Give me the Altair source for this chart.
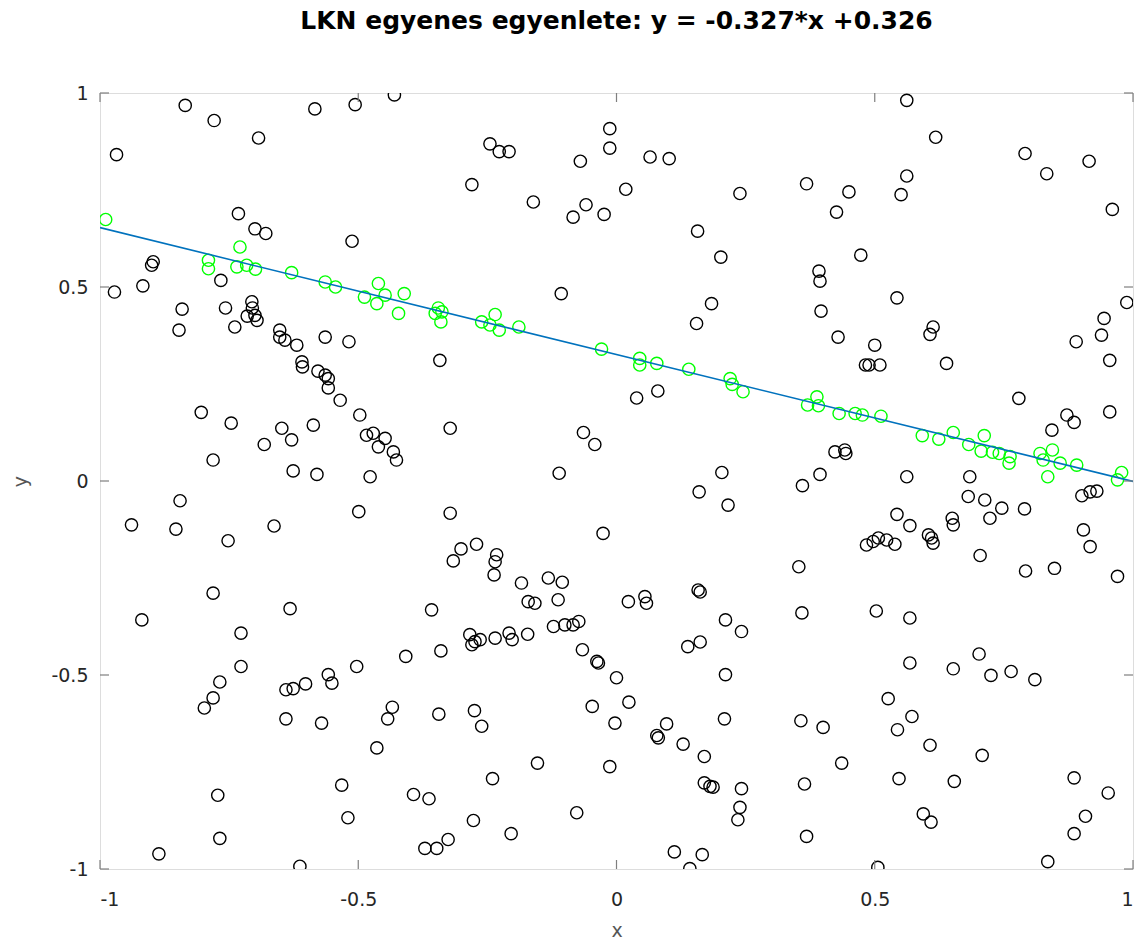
import altair as alt
import pandas as pd

TITLE = "LKN egyenes egyenlete: y = -0.327*x +0.326"
SLOPE = -0.327
INTERCEPT = 0.326

black_x = [
    -0.835, -0.779, -0.693, -0.584, -0.506, -0.968, -0.732, -0.700, -0.679, -0.512,
    -0.897, -0.900, -0.972, -0.917, -0.766, -0.841, -0.847, -0.757, -0.739, -0.706,
    -0.705, -0.700, -0.715, -0.696, -0.652, -0.652, -0.642, -0.619, -0.564, -0.518,
    -0.430, -0.245, -0.227, -0.208, -0.280, -0.161, -0.070, -0.013, -0.013, -0.059,
    -0.084, -0.024, -0.107,
    0.065, 0.102, 0.018, 0.239, 0.157, 0.202, 0.184, 0.155, 0.368, 0.450,
    0.426, 0.473, 0.392, 0.394, 0.396, 0.429, 0.500,
    0.562, 0.618, 0.562, 0.551, 0.791, 0.833, 0.915, 0.960, 0.543, 0.613,
    0.607, 0.988, 0.944, 0.939, 0.890,
    -0.609, -0.608, -0.578, -0.564, -0.558, -0.558, -0.535, -0.497, -0.804, -0.746,
    -0.648, -0.629, -0.587, -0.682, -0.781, -0.626, -0.580, -0.845, -0.939, -0.853,
    -0.752, -0.663, -0.499, -0.781, -0.632,
    -0.342, -0.484, -0.471, -0.448, -0.461, -0.432, -0.426, -0.477, -0.322, -0.322,
    -0.064, -0.042, -0.111, -0.026, -0.316, -0.301, -0.271, -0.232, -0.235, -0.237,
    -0.184, -0.132, -0.105, -0.113, -0.171, -0.158, -0.358,
    0.039, 0.080, 0.482, 0.489, 0.510, 0.423, 0.442, 0.444, 0.394, 0.360,
    0.204, 0.160, 0.216, 0.484, 0.497, 0.507, 0.353, 0.158, 0.162, 0.023,
    0.055, 0.058, 0.359, 0.503,
    0.639, 0.955, 0.779, 0.872, 0.886, 0.843, 0.955, 0.562, 0.684, 0.901,
    0.917, 0.930, 0.681, 0.713, 0.746, 0.790, 0.723, 0.543, 0.568, 0.650,
    0.652, 0.604, 0.610, 0.613, 0.523, 0.539, 0.904, 0.917, 0.704, 0.792,
    0.848, 0.970,
    -0.919, -0.727, -0.727, -0.768, -0.781, -0.798, -0.640, -0.626, -0.602, -0.558,
    -0.551, -0.503, -0.640, -0.571, -0.532, -0.520, -0.772, -0.768, -0.886, -0.613,
    -0.284, -0.280, -0.274, -0.264, -0.235, -0.208, -0.202, -0.172, -0.122, -0.100,
    -0.084, -0.073, -0.340, -0.408, -0.066, -0.038, -0.035, 0.000, -0.434, -0.443,
    -0.344, -0.275, -0.261, -0.047, -0.003, -0.464, -0.153, -0.240, -0.013, -0.393,
    -0.363, -0.277, -0.204, -0.077, -0.371, -0.348, -0.326,
    0.211, 0.242, 0.138, 0.162, 0.024, 0.097, 0.078, 0.081, 0.129, 0.170,
    0.211, 0.209, 0.357, 0.400, 0.436, 0.170, 0.181, 0.187, 0.242, 0.239,
    0.235, 0.364, 0.368, 0.112, 0.166, 0.142, 0.506,
    0.568, 0.568, 0.652, 0.702, 0.725, 0.764, 0.810, 0.526, 0.572, 0.544,
    0.607, 0.708, 0.547, 0.654, 0.594, 0.609, 0.886, 0.952, 0.908, 0.886,
    0.835,
]
black_y = [
    0.968, 0.929, 0.884, 0.959, 0.970, 0.841, 0.689, 0.650, 0.638, 0.618,
    0.565, 0.556, 0.487, 0.503, 0.517, 0.443, 0.389, 0.446, 0.397, 0.462,
    0.446, 0.427, 0.425, 0.414, 0.389, 0.371, 0.363, 0.350, 0.371, 0.359,
    0.995, 0.869, 0.849, 0.849, 0.764, 0.719, 0.824, 0.908, 0.858, 0.712,
    0.680, 0.687, 0.483,
    0.835, 0.831, 0.752, 0.741, 0.644, 0.577, 0.457, 0.406, 0.766, 0.745,
    0.693, 0.582, 0.541, 0.515, 0.438, 0.371, 0.350,
    0.981, 0.886, 0.786, 0.738, 0.844, 0.792, 0.824, 0.700, 0.472, 0.397,
    0.378, 0.460, 0.419, 0.376, 0.359,
    0.307, 0.294, 0.283, 0.273, 0.264, 0.240, 0.208, 0.170, 0.177, 0.149,
    0.136, 0.106, 0.144, 0.094, 0.054, 0.026, 0.017, -0.051, -0.113, -0.124,
    -0.154, -0.116, -0.079, -0.289, -0.329,
    0.311, 0.118, 0.123, 0.110, 0.088, 0.075, 0.054, 0.011, 0.136, -0.083,
    0.125, 0.094, 0.020, -0.135, -0.206, -0.175, -0.163, -0.190, -0.208, -0.242,
    -0.263, -0.250, -0.261, -0.306, -0.311, -0.315, -0.332,
    0.214, 0.232, 0.299, 0.299, 0.299, 0.075, 0.080, 0.071, 0.017, -0.012,
    0.022, -0.028, -0.062, -0.165, -0.156, -0.147, -0.221, -0.281, -0.286, -0.311,
    -0.298, -0.315, -0.340, -0.335,
    0.303, 0.311, 0.213, 0.170, 0.151, 0.131, 0.178, 0.011, 0.011, -0.038,
    -0.028, -0.026, -0.040, -0.049, -0.070, -0.072, -0.096, -0.086, -0.115, -0.096,
    -0.113, -0.139, -0.147, -0.160, -0.152, -0.163, -0.126, -0.169, -0.192, -0.232,
    -0.225, -0.246,
    -0.358, -0.392, -0.478, -0.518, -0.559, -0.585, -0.538, -0.535, -0.523, -0.499,
    -0.521, -0.478, -0.613, -0.624, -0.784, -0.868, -0.810, -0.921, -0.961, -0.993,
    -0.396, -0.422, -0.414, -0.409, -0.405, -0.392, -0.409, -0.395, -0.375, -0.371,
    -0.371, -0.362, -0.438, -0.452, -0.435, -0.465, -0.469, -0.507, -0.583, -0.613,
    -0.601, -0.592, -0.632, -0.581, -0.624, -0.688, -0.727, -0.767, -0.736, -0.808,
    -0.819, -0.875, -0.909, -0.855, -0.947, -0.947, -0.924,
    -0.358, -0.388, -0.427, -0.415, -0.570, -0.626, -0.656, -0.662, -0.678, -0.710,
    -0.499, -0.613, -0.618, -0.635, -0.727, -0.778, -0.787, -0.789, -0.793, -0.841,
    -0.873, -0.781, -0.916, -0.956, -0.963, -0.999, -0.996,
    -0.353, -0.469, -0.484, -0.446, -0.501, -0.491, -0.512, -0.561, -0.607, -0.641,
    -0.681, -0.707, -0.767, -0.774, -0.858, -0.879, -0.765, -0.804, -0.864, -0.909,
    -0.981,
]

green_x = [
    -0.989, -0.790, -0.790, -0.729, -0.735, -0.716, -0.699, -0.629, -0.564, -0.544,
    -0.488, -0.461, -0.464, -0.448, -0.411, -0.422, -0.345, -0.338, -0.340, -0.351,
    -0.261, -0.235, -0.245, -0.227, -0.189, -0.029, 0.045, 0.045, 0.078, 0.140,
    0.220, 0.224, 0.245, 0.388, 0.370, 0.391, 0.431, 0.462, 0.476, 0.512,
    0.592, 0.624, 0.652, 0.682, 0.712, 0.706, 0.728, 0.741, 0.762, 0.760,
    0.820, 0.826, 0.844, 0.859, 0.835, 0.891, 0.978, 0.970,
]
green_y = [
    0.674, 0.569, 0.547, 0.603, 0.552, 0.556, 0.546, 0.537, 0.513, 0.500,
    0.474, 0.509, 0.457, 0.479, 0.483, 0.432, 0.446, 0.436, 0.410, 0.432,
    0.410, 0.429, 0.402, 0.389, 0.397, 0.340, 0.316, 0.299, 0.303, 0.288,
    0.264, 0.249, 0.230, 0.217, 0.196, 0.194, 0.174, 0.174, 0.170, 0.167,
    0.117, 0.108, 0.125, 0.094, 0.117, 0.077, 0.074, 0.071, 0.063, 0.046,
    0.071, 0.054, 0.080, 0.046, 0.011, 0.041, 0.022, 0.003,
]

tick_values = [-1, -0.5, 0, 0.5, 1]
line_x = [-1, 1]

W, H = 1033, 776
FONT = "DejaVu Sans"
FRAME = "#7f7f7f"
TICK_LEN = 9

xs = alt.Scale(domain=[-1, 1], nice=False, zero=False)
ys = alt.Scale(domain=[-1, 1], nice=False, zero=False)

black_df = pd.DataFrame({"x": black_x, "y": black_y})
green_df = pd.DataFrame({"x": green_x, "y": green_y})
line_df = pd.DataFrame({"x": line_x, "y": [SLOPE * v + INTERCEPT for v in line_x]})
tick_df = pd.DataFrame({"x": tick_values, "y": tick_values})

label_expr = "'' + datum.value"

x_axis = alt.Axis(
    values=tick_values, labelExpr=label_expr, domain=False, ticks=False, grid=False,
    labelFontSize=19, labelFont=FONT, labelColor="#262626", labelPadding=21,
    title="x", titleFontSize=19, titleFont=FONT, titleFontWeight="normal",
    titleColor="#555555", titlePadding=12,
)
y_axis = alt.Axis(
    values=tick_values, labelExpr=label_expr, domain=False, ticks=False, grid=False,
    labelFontSize=19, labelFont=FONT, labelColor="#262626", labelPadding=12,
    title="y", titleFontSize=19, titleFont=FONT, titleFontWeight="normal",
    titleColor="#555555", titlePadding=20,
)

X = alt.X("x:Q", scale=xs, axis=x_axis)
Y = alt.Y("y:Q", scale=ys, axis=y_axis)

black = alt.Chart(black_df).mark_point(
    shape="circle", filled=False, size=150, strokeWidth=1.4, color="#000000",
    opacity=1, clip=True,
).encode(x=X, y=Y)

green = alt.Chart(green_df).mark_point(
    shape="circle", filled=False, size=150, strokeWidth=1.4, color="#00ff00",
    opacity=1, clip=True,
).encode(x=X, y=Y)

line = alt.Chart(line_df).mark_line(color="#0072bd", strokeWidth=1.6, clip=True).encode(
    x=X, y=Y
)

xt_bottom = alt.Chart(tick_df).mark_rule(color=FRAME, strokeWidth=1.2).encode(
    x=X, y=alt.value(H), y2=alt.value(H - TICK_LEN)
)
xt_top = alt.Chart(tick_df).mark_rule(color=FRAME, strokeWidth=1.2).encode(
    x=X, y=alt.value(0), y2=alt.value(TICK_LEN)
)
yt_left = alt.Chart(tick_df).mark_rule(color=FRAME, strokeWidth=1.2).encode(
    y=Y, x=alt.value(0), x2=alt.value(TICK_LEN)
)
yt_right = alt.Chart(tick_df).mark_rule(color=FRAME, strokeWidth=1.2).encode(
    y=Y, x=alt.value(W), x2=alt.value(W - TICK_LEN)
)

chart = alt.layer(
    black, green, line, xt_bottom, xt_top, yt_left, yt_right
).properties(
    width=W,
    height=H,
    title=alt.TitleParams(
        TITLE, fontSize=25, font=FONT, fontWeight="bold", color="#000000",
        anchor="middle", offset=50,
    ),
    padding={"left": 100, "top": 93, "right": 5, "bottom": 72},
    autosize=alt.AutoSizeParams(type="none"),
).configure_view(
    stroke=FRAME, strokeWidth=2, fill="#ffffff"
).configure(background="#ffffff")

chart.save("out.html", embed_options={"renderer": "svg", "actions": False})
